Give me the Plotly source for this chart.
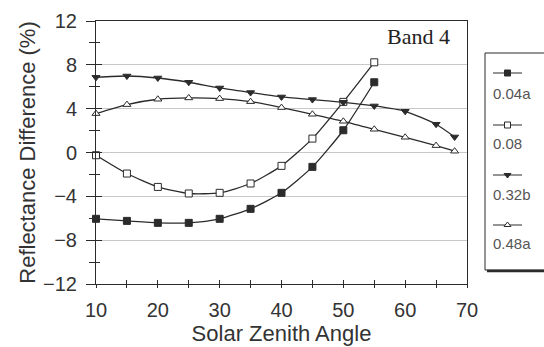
import plotly.graph_objects as go

# ---- data ----
angles_long = [10, 15, 20, 25, 30, 35, 40, 45, 50, 55, 60, 65, 68]
angles_short = [10, 15, 20, 25, 30, 35, 40, 45, 50, 55]
s_004a = [-6.05, -6.24, -6.42, -6.42, -6.05, -5.14, -3.68, -1.31, 2.03, 6.41]
s_008 = [-0.25, -1.92, -3.14, -3.74, -3.68, -2.83, -1.22, 1.27, 4.62, 8.23]
s_032b = [6.86, 6.98, 6.80, 6.41, 5.89, 5.47, 5.07, 4.83, 4.58, 4.25, 3.76, 2.58, 1.42]
s_048a = [3.55, 4.37, 4.86, 4.98, 4.92, 4.64, 4.10, 3.49, 2.85, 2.12, 1.39, 0.63, 0.12]
series_names = ["0.04a", "0.08", "0.32b", "0.48a"]
x_ticks = [10, 20, 30, 40, 50, 60, 70]
y_ticks = [-12, -8, -4, 0, 4, 8, 12]

W, H = 544, 347
L, T, B = 96, 21, 63
plot_right = 467
paper_w = W - L
plot_h = H - T - B
xdom = (plot_right - L) / paper_w

LINE = "#2b2b2b"
TXT = "#333333"
symbols = [
    dict(symbol="square", color=LINE, line=dict(color=LINE, width=1)),
    dict(symbol="square", color="white", line=dict(color=LINE, width=1)),
    dict(symbol="triangle-down", color=LINE, line=dict(color=LINE, width=1)),
    dict(symbol="triangle-up", color="white", line=dict(color=LINE, width=1)),
]
xs = [angles_short, angles_short, angles_long, angles_long]
ys = [s_004a, s_008, s_032b, s_048a]

fig = go.Figure()
for i in range(4):
    m = dict(symbols[i])
    m["size"] = 7
    fig.add_trace(go.Scatter(
        x=xs[i], y=ys[i], mode="lines+markers", name=series_names[i],
        line=dict(color=LINE, width=1.3, shape="spline", smoothing=0.6),
        marker=m, showlegend=False, cliponaxis=False,
    ))

# invisible trace for overlay axes (inside half of crossing ticks)
fig.add_trace(go.Scatter(x=[10], y=[0], xaxis="x3", yaxis="y3", mode="markers",
                         marker=dict(opacity=0), showlegend=False, hoverinfo="skip"))

# legend glyphs on a pixel-mapped helper axis
leg_line_y = [73, 125, 175, 225]
leg_label_y = [93, 143, 194, 243]
for i in range(4):
    m = dict(symbols[i])
    m["size"] = 6
    fig.add_trace(go.Scatter(
        x=[0, 0.5, 1], y=[leg_line_y[i]] * 3, xaxis="x2", yaxis="y2",
        mode="lines", line=dict(color=LINE, width=1), showlegend=False, hoverinfo="skip"))
    fig.add_trace(go.Scatter(
        x=[0.5], y=[leg_line_y[i]], xaxis="x2", yaxis="y2",
        mode="markers", marker=m, showlegend=False, hoverinfo="skip"))

font_main = "Liberation Sans, Arial, sans-serif"
fig.update_layout(
    width=W, height=H,
    margin=dict(l=L, r=0, t=T, b=B, autoexpand=False),
    paper_bgcolor="white", plot_bgcolor="white",
    font=dict(family=font_main, color=TXT),
    xaxis=dict(
        domain=[0, xdom], range=[10, 70], tickvals=x_ticks,
        ticks="outside", ticklen=3, tickcolor=LINE, tickwidth=1,
        minor=dict(dtick=5, ticks="outside", ticklen=3, tickcolor=LINE),
        showline=True, linecolor=LINE, linewidth=1, mirror=True,
        showgrid=False, zeroline=False, ticklabelstandoff=5,
        tickfont=dict(size=20, color=TXT),
        title=dict(text="Solar Zenith Angle", font=dict(size=22, color=TXT), standoff=0),
    ),
    yaxis=dict(
        range=[-12, 12], tickvals=y_ticks,
        ticks="outside", ticklen=9, tickcolor=LINE, tickwidth=1,
        minor=dict(dtick=2, ticks="outside", ticklen=6, tickcolor=LINE),
        showline=True, linecolor=LINE, linewidth=1, mirror=True,
        showgrid=True, gridcolor="#c8c8c8", gridwidth=1, zeroline=False,
        ticklabelstandoff=5,
        tickfont=dict(size=20, color=TXT),
        title=dict(text="Reflectance Difference (%)", font=dict(size=22, color=TXT), standoff=1),
    ),
    xaxis3=dict(
        domain=[0, xdom], range=[10, 70], overlaying="x", side="bottom", anchor="y3",
        tickvals=x_ticks, ticks="inside", ticklen=4, tickcolor=LINE,
        minor=dict(dtick=5, ticks="inside", ticklen=4, tickcolor=LINE),
        showticklabels=False, showgrid=False, zeroline=False, showline=False,
    ),
    yaxis3=dict(
        range=[-12, 12], overlaying="y", side="left", anchor="x3",
        tickvals=y_ticks, ticks="inside", ticklen=6, tickcolor=LINE,
        minor=dict(dtick=2, ticks="inside", ticklen=4, tickcolor=LINE),
        showticklabels=False, showgrid=False, zeroline=False, showline=False,
    ),
    xaxis2=dict(
        domain=[(493 - L) / paper_w, (522 - L) / paper_w], range=[0, 1],
        visible=False, anchor="y2",
    ),
    yaxis2=dict(
        domain=[0, 1], range=[H - B, T], visible=False, anchor="x2",
    ),
)

# legend box with shadow
fig.add_shape(type="rect", xref="paper", yref="paper",
              x0=(485 - L) / paper_w, x1=(560 - L) / paper_w,
              y0=(H - B - 270) / plot_h, y1=(H - B - 53) / plot_h,
              line=dict(color=LINE, width=1), fillcolor="rgba(0,0,0,0)")
fig.add_shape(type="line", xref="paper", yref="paper",
              x0=(487 - L) / paper_w, x1=(560 - L) / paper_w,
              y0=(H - B - 271) / plot_h, y1=(H - B - 271) / plot_h,
              line=dict(color=LINE, width=2.5))

for i in range(4):
    fig.add_annotation(xref="paper", yref="paper",
                       x=(491 - L) / paper_w, y=(H - B - leg_label_y[i]) / plot_h,
                       text=series_names[i], showarrow=False, xanchor="left", yanchor="middle",
                       font=dict(size=15, family=font_main, color="#555555"))

fig.add_annotation(xref="paper", yref="paper",
                   x=(452 - L) / paper_w, y=(H - B - 36) / plot_h,
                   text="Band 4", showarrow=False, xanchor="right", yanchor="middle",
                   font=dict(size=22, family="Liberation Serif, Times New Roman, serif", color="#222222"))

fig.write_html("out.html")
